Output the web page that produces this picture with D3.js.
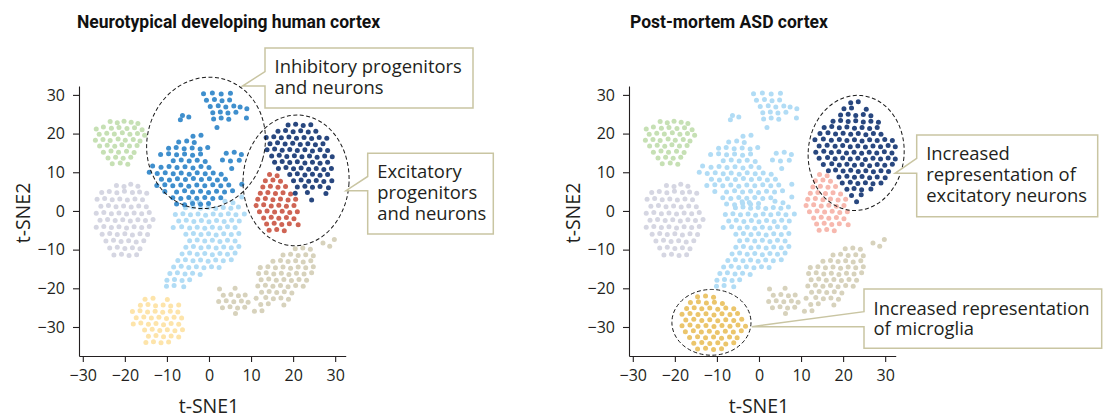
<!DOCTYPE html>
<html>
<head>
<meta charset="utf-8">
<script src="https://cdn.jsdelivr.net/npm/d3@7"></script>
<style>
	body { margin: 0; background: #ffffff; }
	svg { display: block; }
	.axis_text { font-family: "Open Sans", sans-serif; font-size: 16px; fill: #231f20; }
	.axis_label { font-family: "Open Sans", sans-serif; font-size: 19.5px; fill: #231f20; }
	.title { font-family: Roboto, sans-serif; font-weight: bold; font-size: 17.5px; fill: #111111; }
	.callout_text { font-family: "Open Sans", sans-serif; font-size: 18.4px; fill: #231f20; }
</style>
</head>
<body>
<div id="chart"></div>
<script>
// ---- data (t-SNE coordinates) ----
const tick_values = [-30, -20, -10, 0, 10, 20, 30];
const panel_titles = ["Neurotypical developing human cortex", "Post-mortem ASD cortex"];

const green_pts = [
	[-23.5,23.1],[-21.8,22.8],[-20.2,23.2],[-18.5,22.9],[-16.9,22.6],
	[-26.8,21.2],[-25.1,21.7],[-23.2,21.4],[-21.4,21.6],[-19.5,21.3],[-17.7,21.5],[-15.9,21.0],
	[-26.1,19.8],[-24.3,20.1],[-22.5,19.9],[-20.6,20.2],[-18.8,19.8],[-17.0,20.0],[-15.3,19.6],
	[-27.0,18.3],[-25.2,18.5],[-23.5,18.2],[-21.6,18.6],[-19.9,18.3],[-18.0,18.5],[-16.4,18.1],
	[-26.0,16.8],[-24.2,17.0],[-22.4,16.7],[-20.7,17.1],[-18.9,16.8],[-17.1,16.9],
	[-25.1,15.2],[-23.3,15.5],[-21.5,15.2],[-19.6,15.4],[-17.8,15.1],
	[-24.0,13.7],[-22.2,13.9],[-20.4,13.6],[-18.6,13.9],
	[-23.0,12.2],[-21.1,12.4],[-19.3,12.1]];

const grey_pts = [
	[-22.0,6.6],[-20.2,6.3],[-18.6,6.9],[-16.9,6.4],
	[-25.5,4.8],[-23.7,5.0],[-21.9,4.7],[-20.1,5.1],[-18.2,4.8],[-16.5,4.9],[-14.8,4.6],
	[-26.6,3.0],[-24.8,3.2],[-23.0,2.9],[-21.2,3.1],[-19.4,2.8],[-17.6,3.1],[-15.8,2.9],
	[-25.7,1.2],[-23.9,1.4],[-22.1,1.1],[-20.3,1.3],[-18.5,1.0],[-16.7,1.3],[-14.9,1.1],
	[-26.8,-0.6],[-25.0,-0.4],[-23.2,-0.7],[-21.4,-0.5],[-19.6,-0.8],[-17.8,-0.5],[-16.0,-0.7],[-14.2,-0.4],
	[-25.9,-2.4],[-24.1,-2.2],[-22.3,-2.5],[-20.5,-2.3],[-18.7,-2.6],[-16.9,-2.3],[-15.1,-2.5],[-13.3,-2.2],
	[-26.8,-4.2],[-25.0,-4.0],[-23.2,-4.3],[-21.4,-4.1],[-19.6,-4.4],[-17.8,-4.1],[-16.0,-4.3],[-14.2,-4.0],
	[-25.4,-6.0],[-23.6,-5.8],[-21.8,-6.1],[-20.0,-5.9],[-18.2,-6.2],[-16.4,-5.9],[-14.6,-6.1],
	[-24.5,-7.8],[-22.7,-7.6],[-20.9,-7.9],[-19.1,-7.7],[-17.3,-8.0],[-15.5,-7.7],
	[-23.6,-9.6],[-21.8,-9.4],[-20.0,-9.7],[-18.2,-9.5],[-16.4,-9.8],
	[-22.6,-11.4],[-20.8,-11.2],[-19.0,-11.5],[-17.2,-11.3]];

const inhib_pts = [
	[-1.3,30.3],[0.8,30.5],[2.9,30.2],[5.1,30.4],
	[-0.6,28.6],[1.3,28.8],[3.1,28.5],[4.9,28.7],
	[0.3,27.0],[2.2,27.2],[4.0,26.9],[5.9,27.1],[7.4,26.9],[9.0,26.4],
	[0.9,25.4],[2.7,25.6],[4.5,25.3],[6.4,25.5],
	[1.1,23.8],[2.9,24.0],[4.7,23.7],[8.9,24.0],
	[1.9,21.6],
	[-6.3,24.7],[-4.8,24.3],[-6.8,23.6],
	[-3.8,19.3],[-1.9,19.6],
	[-7.2,17.8],[-5.3,18.1],[-3.5,17.7],
	[-9.6,16.2],[-7.8,16.4],[-5.9,16.1],[-4.0,16.3],[-2.1,16.0],[-0.3,16.4],
	[-11.5,14.6],[-9.6,14.8],[-7.7,14.5],[-5.8,14.7],[-3.9,14.4],[-2.0,14.7],[4.1,14.9],[6.0,15.2],[7.7,14.6],
	[-8.5,13.0],[-6.6,13.2],[-4.7,12.9],[-2.8,13.1],[-0.9,12.8],[3.2,13.2],[5.1,12.9],[7.2,13.1],
	[-13.4,11.6],[-11.4,11.3],[-9.5,11.5],[-7.6,11.2],[-5.7,11.4],[-3.8,11.1],[-1.9,11.5],[0.0,11.2],[5.4,11.0],
	[-14.2,10.0],[-12.3,9.7],[-10.4,9.9],[-8.5,9.6],[-6.6,9.8],[-4.7,9.5],[-2.8,9.9],[-0.9,9.6],[1.0,9.8],[2.9,9.5],
	[-11.3,8.2],[-9.4,8.0],[-7.5,8.3],[-5.6,8.1],[-3.7,8.4],[-1.8,8.1],[0.1,8.3],[2.0,8.0],[3.9,8.2],
	[-12.4,6.6],[-10.5,6.8],[-8.6,6.5],[-6.7,6.7],[-4.8,6.4],[-2.9,6.7],[-1.0,6.5],[0.9,6.8],[2.8,6.5],[4.7,6.7],[7.8,6.9],
	[-10.5,5.0],[-7.7,4.9],[-5.8,5.2],[-3.9,4.9],[-2.0,5.1],[-0.1,4.8],[1.8,5.1],[3.7,4.9],[5.6,5.2],
	[-8.6,3.4],[-6.7,3.2],[-4.8,3.5],[-2.9,3.3],[-1.0,3.5],[0.9,3.2],[2.8,3.4],
	[-7.7,1.8],[-5.8,1.6],[-3.9,1.9],[-2.0,1.7],[-0.1,1.9]];

const light_blue_pts = [
	[7.8,3.6],[-4.0,2.4],[-2.3,2.2],[3.8,2.5],[5.7,2.1],
	[-5.6,0.8],[-3.8,1.0],[-2.0,0.7],[-0.2,0.9],[1.6,0.6],[3.4,0.9],[5.2,0.7],[7.0,1.0],
	[-8.0,-0.9],[-6.2,-0.7],[-4.4,-1.0],[-2.6,-0.8],[-0.8,-1.1],[1.0,-0.8],[2.8,-1.0],[4.6,-0.7],[6.4,-1.0],[8.4,-0.8],
	[-7.2,-2.6],[-5.4,-2.4],[-3.6,-2.7],[-1.8,-2.5],[0.0,-2.8],[1.8,-2.5],[3.6,-2.7],[5.4,-2.4],[7.2,-2.6],
	[-8.5,-4.3],[-6.5,-4.1],[-4.6,-4.4],[-2.8,-4.2],[-1.0,-4.5],[0.8,-4.2],[2.6,-4.4],[4.4,-4.1],[6.2,-4.3],
	[-5.5,-6.0],[-3.7,-5.8],[-1.9,-6.1],[-0.1,-5.9],[1.7,-6.2],[3.5,-5.9],[5.3,-6.1],[7.1,-5.8],
	[-4.6,-7.7],[-2.8,-7.5],[-1.0,-7.8],[0.8,-7.6],[2.6,-7.9],[4.4,-7.6],[6.2,-7.8],
	[-5.5,-9.4],[-3.7,-9.2],[-1.9,-9.5],[-0.1,-9.3],[1.7,-9.6],[3.5,-9.3],[5.3,-9.5],[7.1,-9.2],
	[-6.4,-11.1],[-4.6,-10.9],[-2.8,-11.2],[-1.0,-11.0],[0.8,-11.3],[2.6,-11.0],[4.4,-11.2],[6.2,-10.9],
	[-7.4,-12.8],[-5.6,-12.6],[-3.8,-12.9],[-2.0,-12.7],[-0.2,-13.0],[1.6,-12.7],[3.4,-12.9],[5.3,-12.6],
	[-8.4,-14.5],[-6.6,-14.3],[-4.8,-14.6],[-3.0,-14.4],[-1.2,-14.7],[0.6,-14.4],[2.4,-14.6],
	[-9.3,-16.2],[-7.5,-16.0],[-5.7,-16.3],[-3.9,-16.1],[-2.1,-16.4],
	[-10.0,-17.9],[-8.2,-17.7],[-6.4,-18.0],[-4.6,-17.8],
	[-10.1,-19.5],[-8.3,-19.3],[-6.0,-19.6]];

const navy_left_pts = [
	[18.8,22.2],[20.6,22.4],[22.4,22.1],[24.2,22.3],
	[16.4,20.6],[18.2,20.8],[20.0,20.5],[21.8,20.7],[23.6,20.4],[25.4,20.6],
	[13.6,19.0],[15.4,19.2],[17.2,18.9],[19.0,19.1],[20.8,18.8],[22.6,19.0],[24.4,18.7],[26.2,19.0],[28.0,18.8],
	[14.5,17.4],[16.3,17.6],[18.1,17.3],[19.9,17.5],[21.7,17.2],[23.5,17.4],[25.3,17.1],[27.1,17.4],
	[13.8,15.8],[15.6,16.0],[17.4,15.7],[19.2,15.9],[21.0,15.6],[22.8,15.8],[24.6,15.5],[26.4,15.8],[28.2,15.6],
	[14.9,14.2],[16.7,14.4],[18.5,14.1],[20.3,14.3],[22.1,14.0],[23.9,14.2],[25.7,13.9],[27.5,14.2],[29.3,14.0],
	[15.6,12.6],[17.4,12.8],[19.2,12.5],[21.0,12.7],[22.8,12.4],[24.6,12.6],[26.4,12.3],[28.2,12.6],
	[16.5,11.0],[18.3,11.2],[20.1,10.9],[21.9,11.1],[23.7,10.8],[25.5,11.0],[27.3,10.7],[29.1,11.0],
	[19.2,9.4],[21.0,9.6],[22.8,9.3],[24.6,9.5],[26.4,9.2],[28.2,9.4],
	[20.1,7.8],[21.9,8.0],[23.7,7.7],[25.5,7.9],[27.3,7.6],[29.2,7.8],
	[21.0,6.2],[22.8,6.4],[24.6,6.1],[26.4,6.3],[28.4,6.0],
	[20.5,4.6],[23.4,4.8],[27.8,4.5],
	[24.4,2.8]];

const red_pts = [
	[14.4,9.4],[16.2,9.1],
	[13.4,7.8],[15.2,8.0],[17.0,7.7],
	[12.8,6.2],[14.6,6.4],[16.4,6.1],[18.2,6.3],
	[12.2,4.6],[14.0,4.8],[15.8,4.5],[17.6,4.7],[19.4,4.4],
	[11.6,3.0],[13.4,3.2],[15.2,2.9],[17.0,3.1],[18.8,2.8],[20.6,3.0],
	[11.2,1.4],[13.0,1.6],[14.8,1.3],[16.6,1.5],[18.4,1.2],[20.2,1.4],
	[12.0,-0.2],[13.8,0.0],[15.6,-0.3],[17.4,-0.1],[19.2,-0.4],[21.0,-0.2],
	[13.0,-1.8],[14.8,-1.6],[16.6,-1.9],[18.4,-1.7],[20.2,-2.0],
	[13.7,-3.4],[15.5,-3.2],[17.3,-3.5],[19.1,-3.3],[21.2,-3.6],
	[14.3,-5.0],[16.1,-4.8],[17.9,-5.1]];

const tan_pts = [
	[20.5,-9.8],[22.3,-9.6],[24.1,-9.9],
	[17.6,-11.4],[19.4,-11.2],[21.2,-11.5],[23.0,-11.3],[24.8,-11.6],
	[15.2,-13.0],[17.0,-12.8],[18.8,-13.1],[20.6,-12.9],[22.4,-13.2],[24.2,-12.9],
	[12.2,-14.6],[14.0,-14.4],[15.8,-14.7],[17.6,-14.5],[19.4,-14.8],[21.2,-14.5],[23.0,-14.7],[24.8,-14.4],
	[11.8,-16.2],[13.6,-16.0],[15.4,-16.3],[17.2,-16.1],[19.0,-16.4],[20.8,-16.1],[22.6,-16.3],[24.4,-16.0],
	[12.4,-17.8],[14.2,-17.6],[16.0,-17.9],[17.8,-17.7],[19.6,-18.0],[21.4,-17.7],[23.2,-17.9],
	[11.6,-19.4],[13.4,-19.2],[15.2,-19.5],[17.0,-19.3],[18.8,-19.6],[20.6,-19.3],[22.4,-19.5],
	[12.5,-21.0],[14.3,-20.8],[16.1,-21.1],[17.9,-20.9],[19.7,-21.2],
	[11.2,-22.6],[13.5,-22.4],[15.3,-22.7],[17.1,-22.5],[18.9,-22.8],
	[12.3,-24.2],[14.1,-24.0],[17.8,-24.3],
	[2.5,-20.2],[6.2,-20.0],
	[3.4,-21.8],[5.2,-21.6],[7.0,-21.9],[8.6,-21.7],
	[2.3,-23.4],[4.1,-23.2],[5.9,-23.5],[7.7,-23.3],[9.3,-23.6],
	[3.2,-25.0],[5.0,-24.8],[6.8,-25.1],[8.5,-24.9],
	[6.3,-26.5],[10.8,-25.9],[12.6,-25.8],
	[27.1,-8.3],[28.7,-9.1],[29.8,-7.4]];

const yellow_pts = [
	[-15.2,-22.8],[-13.3,-22.6],[-9.9,-22.9],
	[-16.3,-24.4],[-14.5,-24.2],[-12.7,-24.5],[-10.9,-24.3],[-9.1,-24.6],[-7.2,-24.3],
	[-18.2,-26.0],[-16.4,-25.8],[-14.6,-26.1],[-12.8,-25.9],[-11.0,-26.2],[-9.2,-25.9],[-7.4,-26.1],
	[-17.3,-27.6],[-15.5,-27.4],[-13.7,-27.7],[-11.9,-27.5],[-10.1,-27.8],[-8.3,-27.5],[-6.5,-27.7],
	[-18.0,-29.2],[-16.2,-29.0],[-14.4,-29.3],[-12.6,-29.1],[-10.8,-29.4],[-9.0,-29.1],[-7.2,-29.3],
	[-15.3,-30.8],[-13.5,-30.6],[-11.7,-30.9],[-9.9,-30.7],[-8.1,-31.0],[-6.3,-30.7],
	[-14.4,-32.4],[-12.6,-32.2],[-10.8,-32.5],[-9.0,-32.3],[-7.2,-32.6],
	[-15.0,-34.0],[-13.2,-33.8],[-11.4,-34.1],[-9.6,-33.9]];

const navy_right_pts = [
	[21.8,28.0],[23.6,28.2],
	[20.2,26.4],[22.0,26.6],[25.5,26.3],
	[19.4,24.8],[21.2,25.0],[23.0,24.7],[24.8,24.9],[26.6,24.6],
	[17.6,23.2],[19.4,23.4],[21.2,23.1],[23.0,23.3],[24.8,23.0],[26.6,23.2],[28.4,22.9],
	[15.5,21.6],[17.3,21.8],[19.1,21.5],[20.9,21.7],[22.7,21.4],[24.5,21.6],[26.3,21.3],[28.1,21.6],
	[14.5,20.0],[16.4,20.2],[18.2,19.9],[20.0,20.1],[21.8,19.8],[23.6,20.0],[25.4,19.7],[27.2,20.0],[29.0,19.8],
	[13.3,18.4],[15.3,18.6],[17.2,18.3],[19.1,18.5],[20.9,18.2],[22.7,18.4],[24.5,18.1],[26.3,18.4],[28.1,18.2],[29.9,18.5],[31.7,18.2],
	[14.3,16.8],[16.2,17.0],[18.1,16.7],[19.9,16.9],[21.7,16.6],[23.5,16.8],[25.3,16.5],[27.1,16.8],[28.9,16.6],[30.7,16.9],[32.4,16.6],
	[13.5,15.2],[15.4,15.4],[17.2,15.1],[19.0,15.3],[20.8,15.0],[22.6,15.2],[24.4,14.9],[26.2,15.2],[28.0,15.0],[29.8,15.3],[31.6,15.0],
	[14.3,13.6],[16.3,13.8],[18.1,13.5],[19.9,13.7],[21.7,13.4],[23.5,13.6],[25.3,13.3],[27.1,13.6],[28.9,13.4],[30.7,13.7],[32.4,13.4],
	[15.3,12.0],[17.3,12.2],[19.1,11.9],[20.9,12.1],[22.7,11.8],[24.5,12.0],[26.3,11.7],[28.1,12.0],[29.9,11.8],[31.7,12.1],
	[16.5,10.4],[18.2,10.6],[20.0,10.3],[21.8,10.5],[23.6,10.2],[25.4,10.4],[27.2,10.1],[29.0,10.4],[30.8,10.2],
	[19.0,8.8],[20.9,9.0],[22.7,8.7],[24.5,8.9],[26.3,8.6],[28.1,8.8],[30.0,8.6],
	[19.8,7.2],[21.7,7.4],[23.5,7.1],[25.3,7.3],[27.1,7.0],[29.0,7.2],
	[20.9,5.6],[22.6,5.8],[24.4,5.5],[26.6,5.7],
	[22.0,4.0],[24.3,4.2],
	[23.2,2.4]];

const gold_pts = [
	[-14.6,-22.2],[-12.7,-22.0],[-10.8,-22.3],
	[-16.3,-23.7],[-14.4,-23.5],[-12.5,-23.8],[-10.6,-23.6],[-8.7,-23.9],
	[-17.2,-25.2],[-15.4,-25.0],[-13.6,-25.3],[-11.7,-25.1],[-9.8,-25.4],[-7.9,-25.1],[-6.0,-25.3],
	[-18.3,-26.7],[-16.4,-26.5],[-14.5,-26.8],[-12.6,-26.6],[-10.7,-26.9],[-8.8,-26.6],[-6.9,-26.8],[-5.1,-26.5],
	[-17.4,-28.2],[-15.5,-28.0],[-13.6,-28.3],[-11.7,-28.1],[-9.8,-28.4],[-7.9,-28.1],[-6.0,-28.3],[-4.1,-28.0],
	[-18.3,-29.7],[-16.4,-29.5],[-14.5,-29.8],[-12.6,-29.6],[-10.7,-29.9],[-8.8,-29.6],[-6.9,-29.8],[-5.0,-29.5],[-3.2,-29.8],
	[-17.5,-31.2],[-15.6,-31.0],[-13.7,-31.3],[-11.8,-31.1],[-9.9,-31.4],[-8.0,-31.1],[-6.1,-31.3],[-4.2,-31.0],
	[-16.5,-32.7],[-14.6,-32.5],[-12.7,-32.8],[-10.8,-32.6],[-8.9,-32.9],[-7.0,-32.6],[-5.2,-32.8],
	[-15.5,-34.2],[-13.6,-34.0],[-11.7,-34.3],[-9.8,-34.1],[-7.9,-34.4],[-6.0,-34.1],
	[-14.6,-35.7],[-12.7,-35.5],[-10.8,-35.8],[-8.9,-35.6]];

class tsne_panel {

	constructor(opts) {
		this.svg = opts.svg;
		this.offset_x = opts.offset_x;
		this.title = opts.title;
		this.title_x = opts.title_x;
		this.layers = opts.layers;
		this.ellipses = opts.ellipses;
		this.callouts = opts.callouts;
		this.dot_r = 2.5;
		this.init();
	}

	init() {
		this.g = this.svg.append("g")
			.attr("transform", `translate(${this.offset_x},0)`);
		this.create_scales();
		this.create_axes();
		this.create_shapes();
		this.create_annotations();
	}

	create_scales() {
		// axis lines run a little past the outer ticks
		this.x_scale = d3.scaleLinear().domain([-30.9, 32.5]).range([79, 345.7]);
		this.y_scale = d3.scaleLinear().domain([-37.5, 32.3]).range([356, 86]);
	}

	create_axes() {
		let x_axis = this.g.append("g")
			.attr("class", "x axis")
			.attr("transform", "translate(0,356)")
			.call(d3.axisBottom(this.x_scale)
				.tickValues(tick_values)
				.tickSize(6)
				.tickPadding(8)
				.tickSizeOuter(0));
		let y_axis = this.g.append("g")
			.attr("class", "y axis")
			.attr("transform", "translate(79,0)")
			.call(d3.axisLeft(this.y_scale)
				.tickValues(tick_values)
				.tickSize(6)
				.tickPadding(8)
				.tickSizeOuter(0));

		[x_axis, y_axis].forEach((a) => {
			a.attr("font-family", null).attr("font-size", null);
			a.selectAll("path, line").attr("stroke", "#231f20").attr("stroke-width", 1.1);
			a.selectAll("text").attr("class", "axis_text").attr("fill", null);
		});

		this.g.append("text")
			.attr("class", "axis_label")
			.attr("x", this.x_scale(0))
			.attr("y", 412.5)
			.attr("text-anchor", "middle")
			.text("t-SNE1");
		this.g.append("text")
			.attr("class", "axis_label")
			.attr("transform", "translate(30,213) rotate(-90)")
			.attr("text-anchor", "middle")
			.text("t-SNE2");

		this.g.append("text")
			.attr("class", "title")
			.attr("x", this.title_x)
			.attr("y", 28)
			.text(this.title);
	}

	create_shapes() {
		this.layers.forEach((layer) => {
			this.g.append("g")
				.selectAll("circle")
				.data(layer.pts)
				.enter()
				.append("circle")
				.attr("cx", (d) => this.x_scale(d[0]))
				.attr("cy", (d) => this.y_scale(d[1]))
				.attr("r", this.dot_r)
				.style("fill", layer.color);
		});
	}

	create_annotations() {
		this.ellipses.forEach((e) => {
			let cx = this.x_scale(e.cx);
			let cy = this.y_scale(e.cy);
			this.g.append("ellipse")
				.attr("cx", cx)
				.attr("cy", cy)
				.attr("rx", this.x_scale(e.cx + e.rx) - cx)
				.attr("ry", cy - this.y_scale(e.cy + e.ry))
				.attr("transform", `rotate(${e.rot},${cx},${cy})`)
				.attr("fill", "none")
				.attr("stroke", "#1a1a1a")
				.attr("stroke-width", 1)
				.attr("stroke-dasharray", "4,2.5");
		});

		this.callouts.forEach((c) => {
			let [l, t, r, b] = c.box;
			let path = `M${l},${t}H${r}V${b}H${l}V${c.tip[1]}L${c.tip[0]},${c.tip[1]}L${l},${c.tail_top}Z`;
			this.g.append("path")
				.attr("d", path)
				.attr("fill", "#ffffff")
				.attr("stroke", "#c9c5a2")
				.attr("stroke-width", 1.5);
			c.lines.forEach((line, i) => {
				this.g.append("text")
					.attr("class", "callout_text")
					.attr("x", l + 9.5)
					.attr("y", c.first_baseline + i * c.line_gap)
					.text(line);
			});
		});
	}
}

const svg = d3.select("#chart").append("svg")
	.attr("width", 1107)
	.attr("height", 418);

new tsne_panel({
	svg: svg,
	offset_x: 0,
	title: panel_titles[0],
	title_x: 77,
	layers: [
		{pts: green_pts, color: "#c6e0b4"},
		{pts: grey_pts, color: "#d5d6e2"},
		{pts: tan_pts, color: "#d7d2bc"},
		{pts: yellow_pts, color: "#fde4aa"},
		{pts: light_blue_pts, color: "#b1dcf5"},
		{pts: inhib_pts, color: "#3f8fcd"},
		{pts: red_pts, color: "#cf6454"},
		{pts: navy_left_pts, color: "#28477f"}],
	ellipses: [
		{cx: -0.7, cy: 17.6, rx: 14, ry: 17.1, rot: 15},
		{cx: 20.7, cy: 7.9, rx: 12.6, ry: 16.9, rot: 3}],
	callouts: [
		{box: [265, 48, 473, 108], tail_top: 71.7, tip: [242.5, 86],
			lines: ["Inhibitory progenitors", "and neurons"], first_baseline: 73.3, line_gap: 20.5},
		{box: [367.7, 153.3, 493.3, 234], tail_top: 176.5, tip: [346, 190.7],
			lines: ["Excitatory", "progenitors", "and neurons"], first_baseline: 178.3, line_gap: 21}]
});

new tsne_panel({
	svg: svg,
	offset_x: 550,
	title: panel_titles[1],
	title_x: 80,
	layers: [
		{pts: green_pts, color: "#c6e0b4"},
		{pts: grey_pts, color: "#d5d6e2"},
		{pts: tan_pts, color: "#d7d2bc"},
		{pts: red_pts, color: "#f7b8ae"},
		{pts: light_blue_pts, color: "#b1dcf5"},
		{pts: inhib_pts, color: "#b1dcf5"},
		{pts: navy_right_pts, color: "#28477f"},
		{pts: gold_pts, color: "#ebc56b"}],
	ellipses: [
		{cx: 23.1, cy: 15.0, rx: 11.4, ry: 14.9, rot: 5},
		{cx: -11.3, cy: -28.8, rx: 9.4, ry: 8.5, rot: 0}],
	callouts: [
		{box: [366.7, 135, 547.7, 216.7], tail_top: 158.3, tip: [345, 173.3],
			lines: ["Increased", "representation of", "excitatory neurons"], first_baseline: 159.5, line_gap: 21},
		{box: [314, 289, 551.7, 348.3], tail_top: 311.7, tip: [201.7, 326.7],
			lines: ["Increased representation", "of microglia"], first_baseline: 314.5, line_gap: 20}]
});
</script>
</body>
</html>
